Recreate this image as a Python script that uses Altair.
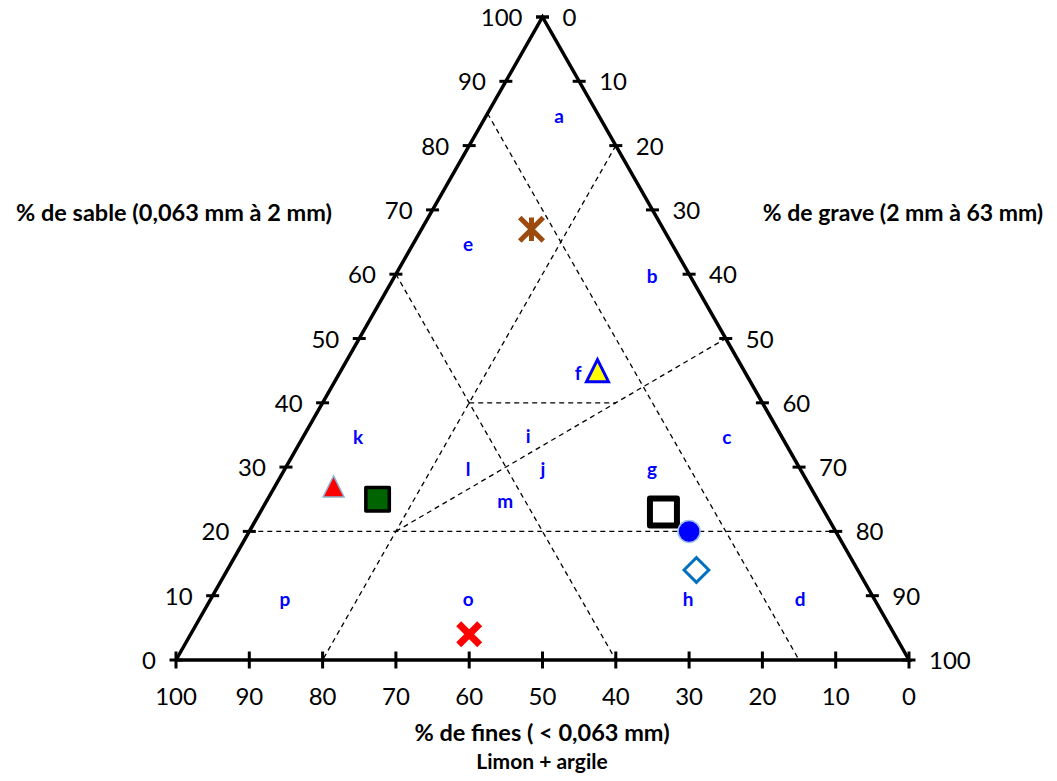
import altair as alt
import pandas as pd

# ---------------- data ----------------
tick_values = [0, 10, 20, 30, 40, 50, 60, 70, 80, 90, 100]

# samples: % sable, % grave (fines = 100 - sable - grave)
sample_names = ["star", "tri_yellow", "tri_red", "sq_green", "sq_open", "circle", "diamond", "cross"]
sample_sand = [67, 45, 27, 25, 23, 20, 14, 4]
sample_gravel = [15, 35, 8, 15, 55, 60, 64, 38]

# zone labels
zone_labels = ["a", "b", "c", "d", "e", "f", "g", "h", "i", "j", "k", "l", "m", "o", "p"]
zone_sand = [84.5, 59.5, 34.5, 9.3, 64.5, 44.5, 29.5, 9.3, 34.7, 29.5, 34.5, 29.5, 24.6, 9.3, 9.3]
zone_gravel = [10, 35.2, 57.9, 80.5, 7.6, 32.6, 50.2, 65.2, 30.7, 35.3, 7.6, 25.1, 32.6, 35.2, 10.2]

# zone boundaries (segment ends in % sable / % grave)
bound_sand1 = [20, 60, 85, 80, 40, 20]
bound_grav1 = [0, 0, 0, 20, 20, 20]
bound_sand2 = [20, 0, 0, 0, 40, 50]
bound_grav2 = [80, 60, 85, 20, 40, 50]

# triangle outline: vertices (sable, grave)
frame_sand = [0, 100, 0, 0]
frame_gravel = [0, 0, 100, 0]

title_sable = "% de sable (0,063 mm à 2 mm)"
title_grave = "% de grave (2 mm à 63 mm)"
title_fines = "% de fines ( < 0,063 mm)"
title_fines2 = "Limon + argile"


def tx(s, g):
    return g + s / 2.0


def ty(s, g):
    return s


FONT = "Lato"

xs = alt.Scale(domain=[0, 100], nice=False, zero=False)
ys = alt.Scale(domain=[0, 100], nice=False, zero=False)

def X(f="x"):
    return alt.X(f + ":Q", scale=xs, axis=None)

def Y(f="y"):
    return alt.Y(f + ":Q", scale=ys, axis=None)

# frame
frame_df = pd.DataFrame({
    "x": [tx(s, g) for s, g in zip(frame_sand, frame_gravel)],
    "y": [ty(s, g) for s, g in zip(frame_sand, frame_gravel)],
    "o": list(range(len(frame_sand))),
})
frame = alt.Chart(frame_df).mark_line(color="black", strokeWidth=3.5, strokeJoin="miter").encode(
    x=X(), y=Y(), order="o:O")

# boundaries
bd = pd.DataFrame({
    "x": [tx(s, g) for s, g in zip(bound_sand1, bound_grav1)],
    "y": [ty(s, g) for s, g in zip(bound_sand1, bound_grav1)],
    "x2": [tx(s, g) for s, g in zip(bound_sand2, bound_grav2)],
    "y2": [ty(s, g) for s, g in zip(bound_sand2, bound_grav2)],
})
bounds = alt.Chart(bd).mark_rule(color="black", strokeWidth=1.3, strokeDash=[5, 4]).encode(
    x=X(), y=Y(), x2="x2:Q", y2="y2:Q")

# ticks
bottom_df = pd.DataFrame({"x": [100 - f for f in tick_values], "y": [0] * len(tick_values),
                          "t": [str(f) for f in tick_values]})
left_df = pd.DataFrame({"x": [s / 2 for s in tick_values], "y": tick_values,
                        "t": [str(s) for s in tick_values]})
right_df = pd.DataFrame({"x": [100 - s / 2 for s in tick_values], "y": tick_values,
                         "t": [str(100 - s) for s in tick_values]})

vtick = "M0,-1L0,1"
htick = "M-1,0L1,0"
bticks = alt.Chart(bottom_df).mark_point(shape=vtick, size=289, stroke="black", strokeWidth=3,
                                         filled=False, opacity=1).encode(x=X(), y=Y())
lticks = alt.Chart(left_df).mark_point(shape=htick, size=169, stroke="black", strokeWidth=3,
                                       filled=False, opacity=1).encode(x=X(), y=Y())
rticks = alt.Chart(right_df).mark_point(shape=htick, size=169, stroke="black", strokeWidth=3,
                                        filled=False, opacity=1).encode(x=X(), y=Y())

LBL = 24
blabels = alt.Chart(bottom_df).mark_text(font=FONT, fontSize=LBL, color="black", dy=38,
                                         baseline="middle", align="center").encode(x=X(), y=Y(), text="t:N")
llabels = alt.Chart(left_df).mark_text(font=FONT, fontSize=LBL, color="black", dx=-20, dy=2,
                                       baseline="middle", align="right").encode(x=X(), y=Y(), text="t:N")
rlabels = alt.Chart(right_df).mark_text(font=FONT, fontSize=LBL, color="black", dx=20, dy=2,
                                        baseline="middle", align="left").encode(x=X(), y=Y(), text="t:N")

# zone letters
zdf = pd.DataFrame({
    "x": [tx(s, g) for s, g in zip(zone_sand, zone_gravel)],
    "y": [ty(s, g) for s, g in zip(zone_sand, zone_gravel)],
    "t": zone_labels,
})
zones = alt.Chart(zdf).mark_text(font=FONT, fontSize=19, fontWeight="bold", color="#0000FF",
                                 baseline="middle", align="center").encode(x=X(), y=Y(), text="t:N")

# samples
sdf = pd.DataFrame({
    "name": sample_names,
    "x": [tx(s, g) for s, g in zip(sample_sand, sample_gravel)],
    "y": [ty(s, g) for s, g in zip(sample_sand, sample_gravel)],
})

def sample(name, **mk):
    return alt.Chart(sdf).transform_filter(alt.datum.name == name).mark_point(opacity=1, **mk).encode(
        x=X(), y=Y())

tri = "M0,-1L1,1L-1,1Z"
s_star = sample("star", shape="M-1,-1L1,1M-1,1L1,-1M0,-1L0,1", size=552, filled=False,
                stroke="#9C4A0E", strokeWidth=5, strokeCap="butt")
s_tri_y = sample("tri_yellow", shape=tri, size=484, filled=True, fill="#FFFF00",
                 stroke="#0000FF", strokeWidth=3, strokeJoin="miter")
s_tri_r = sample("tri_red", shape=tri, size=441, filled=True, fill="#FF0000",
                 stroke="#8DB4D0", strokeWidth=1.5)
s_sq_g = sample("sq_green", shape="square", size=552, filled=True, fill="#006400",
                stroke="black", strokeWidth=3.5, strokeJoin="round")
s_sq_o = sample("sq_open", shape="square", size=729, filled=True, fill="white",
                stroke="black", strokeWidth=6, strokeJoin="round")
s_circ = sample("circle", shape="circle", size=484, filled=True, fill="#0000FF",
                stroke="#9DC3E6", strokeWidth=1.5)
s_diam = sample("diamond", shape="diamond", size=615, filled=True, fill="white",
                stroke="#0070C0", strokeWidth=3, strokeJoin="miter")
s_cross = sample("cross", shape="M-1,-1L1,1M-1,1L1,-1", size=441, filled=False,
                 stroke="#FF0000", strokeWidth=7, strokeCap="butt")

# titles
def title(text, px, py, size=23.5, baseline="middle"):
    return alt.Chart(pd.DataFrame({"t": [text]})).mark_text(
        font=FONT, fontSize=size, fontWeight="bold", color="black", align="center", baseline=baseline
    ).encode(x=alt.value(px), y=alt.value(py), text="t:N")

t1 = title(title_sable, -2, 197)
t2 = title(title_grave, 727, 197, size=23)
t3 = title(title_fines, 366, 717)
t4 = title(title_fines2, 366, 752, size=21, baseline="alphabetic")

chart = alt.layer(
    bounds, frame, bticks, lticks, rticks, blabels, llabels, rlabels, zones,
    s_sq_o, s_circ, s_diam, s_star, s_tri_y, s_tri_r, s_sq_g, s_cross,
    t1, t2, t3, t4,
).properties(
    width=733, height=643,
    padding={"left": 168, "top": 9, "right": 140, "bottom": 113},
    autosize=alt.AutoSizeParams(type="none"),
    background="white",
).configure_view(stroke=None)

chart.save("out.html", embed_options={"renderer": "svg", "actions": False})
